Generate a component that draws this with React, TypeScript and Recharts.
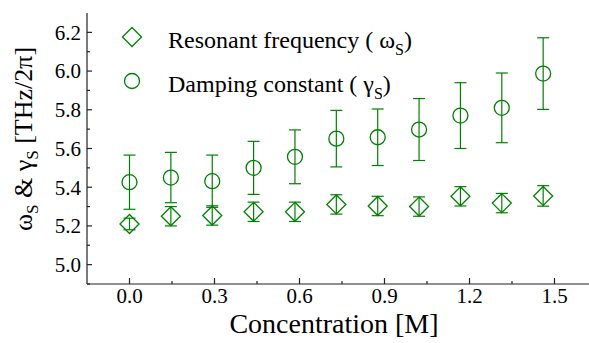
import { ScatterChart, Scatter, XAxis, YAxis, ErrorBar, Legend, Label } from "recharts";

const concentration = [0, 0.146, 0.292, 0.438, 0.584, 0.73, 0.876, 1.022, 1.168, 1.314, 1.46];
const resonantFreq = [5.21, 5.25, 5.254, 5.273, 5.273, 5.311, 5.303, 5.3, 5.353, 5.318, 5.355];
const resonantErr = [0.03, 0.05, 0.05, 0.05, 0.05, 0.05, 0.05, 0.05, 0.05, 0.05, 0.053];
const dampingConst = [5.426, 5.45, 5.431, 5.5, 5.557, 5.651, 5.658, 5.698, 5.77, 5.81, 5.987];
const dampingErr = [0.14, 0.13, 0.135, 0.137, 0.139, 0.146, 0.146, 0.16, 0.17, 0.18, 0.185];

const xMajorTicks = [0, 0.3, 0.6, 0.9, 1.2, 1.5];
const xMinorTicks = [0.15, 0.45, 0.75, 1.05, 1.35];
const yMajorTicks = [5.0, 5.2, 5.4, 5.6, 5.8, 6.0, 6.2];
const yMinorTicks = [4.9, 5.1, 5.3, 5.5, 5.7, 5.9, 6.1];

const legendLabels = [
  { main: "Resonant frequency ( \u03c9", sub: "S", tail: ")" },
  { main: "Damping constant ( \u03b3", sub: "S", tail: ")" },
];

const green = "#008000";
const axisColor = "#222";
const serif = "Liberation Serif, Times New Roman, serif";

const resonantData = concentration.map((c, i) => ({ x: c, y: resonantFreq[i], err: resonantErr[i] }));
const dampingData = concentration.map((c, i) => ({ x: c, y: dampingConst[i], err: dampingErr[i] }));

function Diamond(props: any) {
  const { cx, cy } = props;
  const r = 9.5;
  return (
    <path
      d={`M${cx},${cy - r}L${cx + r},${cy}L${cx},${cy + r}L${cx - r},${cy}Z`}
      fill="none"
      stroke={green}
      strokeWidth={1.3}
    />
  );
}

function Ring(props: any) {
  const { cx, cy } = props;
  return <circle cx={cx} cy={cy} r={7.5} fill="none" stroke={green} strokeWidth={1.3} />;
}

function BottomTick(props: any) {
  const { x, y, payload } = props;
  const major = xMajorTicks.includes(payload.value);
  return (
    <g>
      <line x1={x} x2={x} y1={y} y2={y - (major ? 6 : 3)} stroke={axisColor} strokeWidth={1.2} />
      {major && (
        <text x={x} y={y + 19} textAnchor="middle" fontSize={21} fontFamily={serif} fill="#000">
          {payload.value.toFixed(1)}
        </text>
      )}
    </g>
  );
}

function TopTick(props: any) {
  const { x, y, payload } = props;
  const major = xMajorTicks.includes(payload.value);
  return <line x1={x} x2={x} y1={y} y2={y + (major ? 5 : 3)} stroke={axisColor} strokeWidth={1.2} />;
}

function LeftTick(props: any) {
  const { x, y, payload } = props;
  const major = yMajorTicks.includes(payload.value);
  return (
    <g>
      <line x1={x} x2={x + (major ? 5 : 3)} y1={y} y2={y} stroke={axisColor} strokeWidth={1.2} />
      {major && (
        <text x={x - 6} y={y} dy="0.35em" textAnchor="end" fontSize={21} fontFamily={serif} fill="#000">
          {payload.value.toFixed(1)}
        </text>
      )}
    </g>
  );
}

function LegendBox(props: any) {
  const { payload } = props;
  return (
    <div style={{ fontFamily: serif, fontSize: 24, color: "#000" }}>
      {(payload || []).map((entry: any, i: number) => {
        const lbl = legendLabels[i];
        return (
          <div key={i} style={{ display: "flex", alignItems: "center", height: 44 }}>
            <svg width={24} height={24} style={{ marginRight: 24 }}>
              {i === 0 ? <Diamond cx={12} cy={12} /> : <Ring cx={12} cy={12} />}
            </svg>
            <span style={{ whiteSpace: "nowrap", position: "relative", top: 3 }}>
              {lbl.main}
              <span style={{ fontSize: 16, position: "relative", top: 7 }}>{lbl.sub}</span>
              {lbl.tail}
            </span>
          </div>
        );
      })}
    </div>
  );
}

export default function App() {
  return (
    <div style={{ position: "absolute", left: 0, top: 0, width: 589, height: 343, overflow: "hidden", background: "#fff" }}>
      <ScatterChart width={600} height={343} margin={{ top: 13, right: 3, bottom: 0, left: 0 }}>
        <XAxis
          xAxisId="bottom"
          type="number"
          dataKey="x"
          domain={[-0.15, 1.65]}
          allowDataOverflow
          ticks={[...xMajorTicks, ...xMinorTicks]}
          interval={0}
          height={59}
          tickSize={0}
          tickMargin={0}
          tickLine={false}
          tick={<BottomTick />}
          axisLine={{ stroke: axisColor, strokeWidth: 1.2 }}
        >
          <Label
            content={() => (
              <text x={334} y={333} textAnchor="middle" fontSize={28} fontFamily={serif} fill="#000">
                Concentration [M]
              </text>
            )}
          />
        </XAxis>
        <XAxis
          xAxisId="top"
          orientation="top"
          type="number"
          dataKey="x"
          domain={[-0.15, 1.65]}
          allowDataOverflow
          ticks={[...xMajorTicks, ...xMinorTicks]}
          interval={0}
          height={0}
          tickSize={0}
          tickMargin={0}
          tickLine={false}
          tick={<TopTick />}
          axisLine={{ stroke: axisColor, strokeWidth: 1.2 }}
        />
        <YAxis
          type="number"
          dataKey="y"
          domain={[4.9, 6.3]}
          allowDataOverflow
          ticks={[...yMajorTicks, ...yMinorTicks]}
          interval={0}
          width={87}
          tickSize={0}
          tickMargin={0}
          tickLine={false}
          tick={<LeftTick />}
          axisLine={{ stroke: axisColor, strokeWidth: 1.2 }}
        >
          <Label
            content={() => (
              <text
                transform="translate(32,139) rotate(-90)"
                textAnchor="middle"
                fontSize={26}
                fontFamily={serif}
                fill="#000"
              >
                {"\u03c9"}
                <tspan fontSize={17} dy={6}>S</tspan>
                <tspan dy={-6}>{" & \u03b3"}</tspan>
                <tspan fontSize={17} dy={6}>S</tspan>
                <tspan dy={-6}>{" [THz/2\u03c0]"}</tspan>
              </text>
            )}
          />
        </YAxis>
        <Legend
          layout="vertical"
          align="center"
          verticalAlign="middle"
          content={<LegendBox />}
          wrapperStyle={{ position: "absolute", left: 120, top: 15, width: "auto", height: "auto" }}
        />
        <Scatter
          name="Resonant frequency"
          data={resonantData}
          xAxisId="bottom"
          shape={<Diamond />}
          isAnimationActive={false}
        >
          <ErrorBar dataKey="err" direction="y" width={6} stroke={green} strokeWidth={1.2} isAnimationActive={false} />
        </Scatter>
        <Scatter
          name="Damping constant"
          data={dampingData}
          xAxisId="bottom"
          shape={<Ring />}
          isAnimationActive={false}
        >
          <ErrorBar dataKey="err" direction="y" width={6} stroke={green} strokeWidth={1.2} isAnimationActive={false} />
        </Scatter>
      </ScatterChart>
    </div>
  );
}
